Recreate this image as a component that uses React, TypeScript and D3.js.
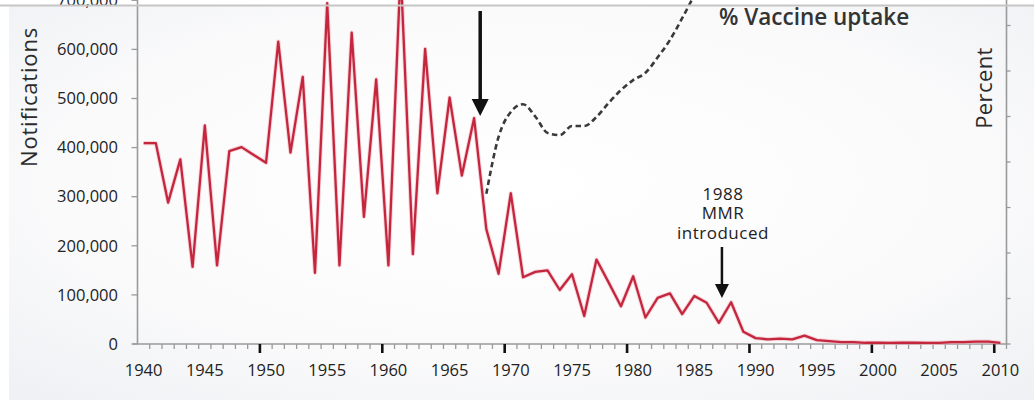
import React from 'react';
import * as d3 from 'd3';

const startYear = 1940;
const endYear = 2010;
const years = d3.range(startYear, endYear + 1);

const notifications = [
  409000, 409000, 288000, 376000, 157000, 445000, 160000, 393000, 401000, 385000,
  369000, 616000, 390000, 544000, 145000, 694000, 160000, 634000, 259000, 539000,
  160000, 763000, 183000, 601000, 307000, 502000, 343000, 460000, 234000, 143000,
  307000, 136000, 147000, 150000, 110000, 142000, 57000, 172000, 125000, 77000,
  138000, 54000, 94000, 103000, 61000, 98000, 84000, 43000, 85000, 25000,
  12000, 9500, 11000, 9500, 17000, 8000, 6000, 4000, 4000, 2500,
  2500, 2300, 3000, 2500, 2400, 2100, 3700, 3700, 5000, 5000, 2300,
];

const uptakeYears = [1968, 1969, 1970, 1971, 1972, 1973, 1974, 1975, 1976, 1977, 1978, 1979, 1980, 1981, 1982, 1983, 1984, 1985];
const uptake = [33, 45.5, 51, 52.7, 50, 46.4, 45.9, 47.9, 47.9, 49.9, 53, 55.8, 58, 59.6, 63, 66.8, 71.6, 76.7];

const leftTicks = [0, 100000, 200000, 300000, 400000, 500000, 600000, 700000];
const rightTicks = [0, 10, 20, 30, 40, 50, 60, 70, 80, 90, 100];

const annotations = [
  { year: 1968, label: [] as string[], y0: 11, y1: 116, head: 17, width: 3.5 },
  { year: 1987.75, label: ['1988', 'MMR', 'introduced'], y0: 247, y1: 298, head: 14, width: 2.5 },
];

const W = 1034;
const H = 406;
const X0 = 137.5;
const X1 = 1006.5;
const Y0 = 344;

export default function App() {
  const x = d3.scaleBand<number>().domain(years).range([X0, X1]).padding(0);
  const bw = x.bandwidth();
  const xc = (yr: number) => (x(yr) as number) + bw / 2;
  const xLin = d3.scaleLinear().domain([startYear, endYear + 1]).range([X0, X1]);
  const yL = d3.scaleLinear().domain([0, 700000]).range([Y0, Y0 - 7 * 49.1]);
  const yR = d3.scaleLinear().domain([0, 100]).range([Y0, Y0 - 10 * 45.5]);

  const notifLine = d3.line<number>().x((_, i) => xc(years[i])).y((d) => yL(d));
  const uptakeLine = d3
    .line<number>()
    .x((_, i) => xc(uptakeYears[i]))
    .y((d) => yR(d))
    .curve(d3.curveMonotoneX);

  const fmt = d3.format(',');
  const font = "'Open Sans', 'Noto Sans', sans-serif";
  const textCol = '#222222';
  const axisCol = '#9a9a9a';

  return (
    <svg
      width={W}
      height={H}
      style={{ position: 'absolute', left: 0, top: 0, display: 'block' }}
      fontFamily={font}
    >
      <defs>
        <radialGradient id="bg" cx="50%" cy="45%" r="75%">
          <stop offset="0%" stopColor="#ffffff" />
          <stop offset="60%" stopColor="#fafafb" />
          <stop offset="100%" stopColor="#eef0f3" />
        </radialGradient>
      </defs>
      <rect x={0} y={0} width={W} height={H} fill="#ffffff" />
      <rect x={9} y={6} width={W - 9} height={394} fill="url(#bg)" />

      {/* left axis */}
      <line x1={X0} x2={X0} y1={Y0} y2={0} stroke={axisCol} strokeWidth={1.6} />
      {leftTicks.map((t) => (
        <g key={'lt' + t}>
          <line x1={X0 - 6} x2={X0} y1={yL(t)} y2={yL(t)} stroke={axisCol} strokeWidth={1.3} />
          <text x={118} y={yL(t)} dy="0.35em" textAnchor="end" fontSize={16.5} fill={textCol}>
            {fmt(t)}
          </text>
        </g>
      ))}
      <text
        transform={`translate(36.5,97) rotate(-90)`}
        textAnchor="middle"
        fontSize={22}
        letterSpacing={0.8}
        fill="#2b2b2b"
      >
        Notifications
      </text>

      {/* right axis */}
      <line x1={X1} x2={X1} y1={Y0} y2={0} stroke={axisCol} strokeWidth={1.6} />
      {rightTicks.map((t) => (
        <line key={'rt' + t} x1={X1} x2={X1 + 4} y1={yR(t)} y2={yR(t)} stroke={axisCol} strokeWidth={1.3} />
      ))}
      <text
        transform={`translate(991.5,88) rotate(-90)`}
        textAnchor="middle"
        fontSize={22}
        letterSpacing={0.4}
        fill="#2b2b2b"
      >
        Percent
      </text>

      {/* x axis */}
      <line x1={X0 - 5} x2={X1} y1={Y0} y2={Y0} stroke={axisCol} strokeWidth={1.6} />
      {years.slice(1).map((yr) => {
        const major = yr % 10 === 0;
        const xx = x(yr) as number;
        return major ? (
          <line key={'xt' + yr} x1={xx} x2={xx} y1={Y0} y2={Y0 + 9} stroke="#111" strokeWidth={2.6} />
        ) : (
          <line key={'xt' + yr} x1={xx} x2={xx} y1={Y0} y2={Y0 + 5} stroke={axisCol} strokeWidth={1.3} />
        );
      })}
      <line x1={X1} x2={X1} y1={Y0} y2={Y0 + 5} stroke={axisCol} strokeWidth={1.3} />
      {years
        .filter((yr) => yr % 5 === 0)
        .map((yr) => (
          <text key={'xl' + yr} x={xc(yr)} y={376} textAnchor="middle" fontSize={16.5} fill={textCol}>
            {yr}
          </text>
        ))}

      {/* uptake dashed */}
      <path
        d={uptakeLine(uptake) || ''}
        fill="none"
        stroke="#3a3a3a"
        strokeWidth={2.6}
        strokeDasharray="5.5,3.5"
      />
      <text x={719} y={25} fontSize={22.5} fontWeight={600} fill="#333">
        % Vaccine uptake
      </text>

      {/* notifications */}
      <path
        d={notifLine(notifications) || ''}
        fill="none"
        stroke="#f2b6c0"
        strokeWidth={4.2}
        strokeLinejoin="round"
        opacity={0.6}
      />
      <path
        d={notifLine(notifications) || ''}
        fill="none"
        stroke="#c4263d"
        strokeWidth={2.3}
        strokeLinejoin="round"
      />

      {/* annotations */}
      {annotations.map((a, i) => {
        const ax = xLin(a.year);
        return (
          <g key={'an' + i}>
            <line x1={ax} x2={ax} y1={a.y0} y2={a.y1 - a.head + 2} stroke="#111" strokeWidth={a.width} />
            <path
              d={`M${ax - a.head / 2},${a.y1 - a.head} L${ax + a.head / 2},${a.y1 - a.head} L${ax},${a.y1} Z`}
              fill="#111"
            />
            {a.label.map((s, j) => (
              <text
                key={j}
                x={ax + 1}
                y={200 + j * 19.3}
                textAnchor="middle"
                fontSize={17}
                letterSpacing={0.5}
                fill={textCol}
              >
                {s}
              </text>
            ))}
          </g>
        );
      })}

      <line x1={0} x2={W} y1={5.5} y2={5.5} stroke="#c6c6c6" strokeWidth={2} />
    </svg>
  );
}
